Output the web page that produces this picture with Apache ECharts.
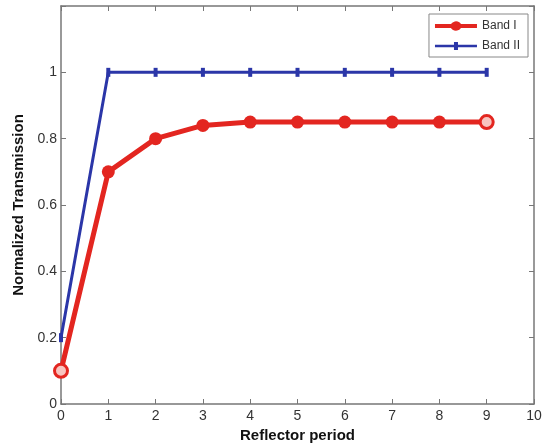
<!DOCTYPE html>
<html>
<head>
<meta charset="utf-8">
<script src="https://cdn.jsdelivr.net/npm/echarts@6/dist/echarts.min.js"></script>
<style>
  html, body { margin: 0; padding: 0; background: #fff; }
  #chart { width: 544px; height: 447px; }
</style>
</head>
<body>
<div id="chart"></div>
<script>
const periods = [0, 1, 2, 3, 4, 5, 6, 7, 8, 9]
const bandI = [0.1, 0.7, 0.8, 0.84, 0.85, 0.85, 0.85, 0.85, 0.85, 0.85]
const bandII = [0.2, 1, 1, 1, 1, 1, 1, 1, 1, 1]

const red = '#e32620'
const blue = '#2b36a8'
const chart = echarts.init(document.getElementById('chart'))
const font = '"Liberation Sans Narrow", "Liberation Sans", Arial, sans-serif'
const axisCommon = {
  axisLine: { show: true, onZero: false, lineStyle: { color: '#777', width: 1.5 } },
  axisTick: { show: true, inside: true, length: 5, lineStyle: { color: '#777' } },
  splitLine: { show: false }
}

// red markers at both ends look like rings in the original
const bandIData = periods.map((p, i) => {
  const item = { value: [p, bandI[i]] }
  if (i === 0 || i === periods.length - 1) {
    item.itemStyle = { color: '#f8c4bf', borderColor: red, borderWidth: 3 }
  }
  return item
})

chart.setOption({
  animation: false,
  textStyle: { fontFamily: font },
  grid: { left: 61, right: 10, top: 6, bottom: 43, outerBoundsMode: 'none', containLabel: false },
  legend: {
    right: 16, top: 14,
    orient: 'vertical',
    itemWidth: 42, itemHeight: 12, itemGap: 8,
    padding: [6, 8, 5, 6],
    borderColor: '#888', borderWidth: 1,
    textStyle: { fontSize: 12, color: '#333', fontFamily: font },
    data: [
      { name: 'Band I', icon: 'path://M0,4 H16 A6,6 0 0,1 26,4 H42 V8 H26 A6,6 0 0,1 16,8 H0 Z' },
      { name: 'Band II', icon: 'path://M0,4.8 H19 V2 H23 V4.8 H42 V7.2 H23 V10 H19 V7.2 H0 Z' }
    ]
  },
  xAxis: [{
    type: 'value', min: 0, max: 10, interval: 1,
    name: 'Reflector period', nameLocation: 'middle', nameGap: 23,
    nameTextStyle: { fontWeight: 'bold', fontSize: 15, color: '#111', fontFamily: 'Liberation Sans, Arial, sans-serif' },
    axisLabel: { fontSize: 14, color: '#333', margin: 5 },
    ...axisCommon
  }, {
    type: 'value', min: 0, max: 10, interval: 1, position: 'top',
    axisLabel: { show: false },
    ...axisCommon
  }],
  yAxis: [{
    type: 'value', min: 0, max: 1.2, interval: 0.2,
    name: 'Normalized Transmission', nameLocation: 'middle', nameGap: 34,
    nameTextStyle: { fontWeight: 'bold', fontSize: 15, color: '#111', fontFamily: 'Liberation Sans, Arial, sans-serif' },
    axisLabel: {
      fontSize: 14, color: '#333', margin: 4,
      formatter: v => (v > 1.05 ? '' : String(Math.round(v * 10) / 10))
    },
    ...axisCommon
  }, {
    type: 'value', min: 0, max: 1.2, interval: 0.2, position: 'right',
    axisLabel: { show: false },
    ...axisCommon
  }],
  series: [{
    name: 'Band I',
    type: 'line',
    data: bandIData,
    symbol: 'circle', symbolSize: 13,
    color: red,
    lineStyle: { width: 5, color: red },
    itemStyle: { color: red },
    z: 2
  }, {
    name: 'Band II',
    type: 'line',
    data: periods.map((p, i) => [p, bandII[i]]),
    symbol: 'rect', symbolSize: [4, 9],
    color: blue,
    lineStyle: { width: 3, color: blue },
    itemStyle: { color: blue },
    z: 3
  }]
})
</script>
</body>
</html>
